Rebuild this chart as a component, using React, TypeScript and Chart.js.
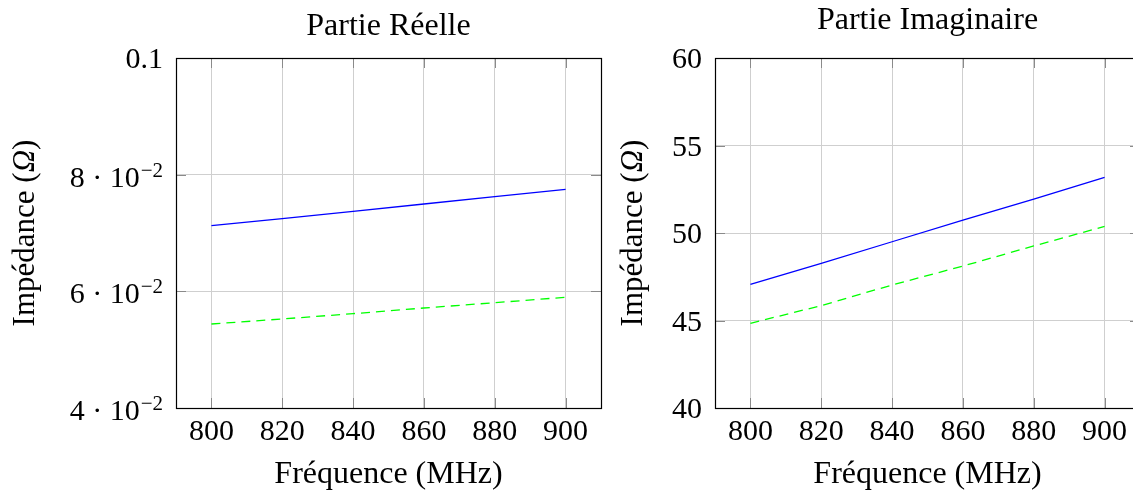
import React, { useEffect, useRef } from "react";
import { Chart, registerables } from "chart.js";

Chart.register(...registerables);

// ---- Data ----
const frequencies = [800, 820, 840, 860, 880, 900];
const reelBlue = [0.07125, 0.07245, 0.07372, 0.07497, 0.07622, 0.07749];
const reelGreen = [0.0544, 0.05526, 0.05617, 0.05714, 0.05805, 0.05898];
const imagBlue = [47.07, 48.27, 49.5, 50.73, 51.94, 53.18];
const imagGreen = [44.84, 45.85, 47.03, 48.11, 49.26, 50.38];

const xTicks = [800, 820, 840, 860, 880, 900];
const reelTicks = [0.04, 0.06, 0.08, 0.1];
const reelTickLabels = ["4 · 10^−2", "6 · 10^−2", "8 · 10^−2", "0.1"];
const imagTicks = [40, 45, 50, 55, 60];
const imagTickLabels = ["40", "45", "50", "55", "60"];

const xAxisTitle = "Fréquence (MHz)";
const yAxisTitleParts = ["Impédance (", "Ω", ")"];

const FONT = "'Liberation Serif', 'Times New Roman', serif";

const framePlugin = {
  id: "frameTicks",
  afterDraw(chart: any) {
    const { ctx, chartArea } = chart;
    const { left, right, top, bottom } = chartArea;
    const xs = chart.scales.x;
    const ys = chart.scales.y;
    const L = 10;
    ctx.save();
    ctx.strokeStyle = "#8a8a8a";
    ctx.lineWidth = 1;
    ctx.beginPath();
    xs.ticks.forEach((t: any) => {
      const px = Math.round(xs.getPixelForValue(t.value)) + 0.5;
      ctx.moveTo(px, bottom);
      ctx.lineTo(px, bottom - L);
      ctx.moveTo(px, top);
      ctx.lineTo(px, top + L);
    });
    ys.ticks.forEach((t: any) => {
      const py = Math.round(ys.getPixelForValue(t.value)) + 0.5;
      ctx.moveTo(left, py);
      ctx.lineTo(left + L, py);
      ctx.moveTo(right, py);
      ctx.lineTo(right - L, py);
    });
    ctx.stroke();
    ctx.strokeStyle = "#000";
    ctx.lineWidth = 1.2;
    ctx.strokeRect(Math.round(left) + 0.5, Math.round(top) + 0.5, Math.round(right - left), Math.round(bottom - top));
    ctx.restore();
  },
};

// y tick labels with real superscript exponents, and the rotated y title with italic Ω
const yLabelPlugin = {
  id: "yLabels",
  afterDraw(chart: any, _args: any, opts: any) {
    const { ctx, chartArea } = chart;
    const ys = chart.scales.y;
    const labels: string[] = opts.labels;
    const ticks: number[] = opts.ticks;
    const xRight = chartArea.left - 13;
    ctx.save();
    ctx.fillStyle = "#000";
    ctx.textBaseline = "alphabetic";
    ticks.forEach((v, i) => {
      const py = ys.getPixelForValue(v);
      const lab = labels[i];
      if (lab.includes("^")) {
        const [base, exp] = lab.split("^");
        ctx.font = `21px ${FONT}`;
        const ew = ctx.measureText(exp).width;
        ctx.textAlign = "left";
        ctx.fillText(exp, xRight - ew, py + 2);
        ctx.font = `30px ${FONT}`;
        ctx.textAlign = "right";
        ctx.fillText(base, xRight - ew - 1, py + 12);
      } else {
        ctx.font = `30px ${FONT}`;
        ctx.textAlign = "right";
        ctx.fillText(lab, xRight, py + 10);
      }
    });
    // y title
    const parts: string[] = opts.titleParts;
    const fonts = [`31px ${FONT}`, `italic 31px ${FONT}`, `31px ${FONT}`];
    const widths = parts.map((p, i) => {
      ctx.font = fonts[i];
      return ctx.measureText(p).width;
    });
    const total = widths.reduce((a, b) => a + b, 0);
    const cy = (chartArea.top + chartArea.bottom) / 2;
    ctx.translate(opts.titleX, cy);
    ctx.rotate(-Math.PI / 2);
    ctx.textAlign = "left";
    let x = -total / 2;
    parts.forEach((p, i) => {
      ctx.font = fonts[i];
      ctx.fillText(p, x, 0);
      x += widths[i];
    });
    ctx.restore();
  },
};

type PanelProps = {
  title: string;
  titlePadTop: number;
  blue: number[];
  green: number[];
  yTicks: number[];
  yLabels: string[];
  yMin: number;
  yMax: number;
  yWidth: number;
  yTitleX: number;
};

function Panel(props: PanelProps) {
  const ref = useRef<HTMLCanvasElement>(null);
  useEffect(() => {
    if (!ref.current) return;
    const titleLH = 32 * 1.2;
    const chart = new Chart(ref.current, {
      type: "line",
      data: {
        datasets: [
          {
            data: frequencies.map((f, i) => ({ x: f, y: props.blue[i] })),
            borderColor: "#0000ff",
            borderWidth: 1.3,
            pointRadius: 0,
            tension: 0,
            fill: false,
          },
          {
            data: frequencies.map((f, i) => ({ x: f, y: props.green[i] })),
            borderColor: "#00ff00",
            borderWidth: 1.3,
            borderDash: [9, 6],
            pointRadius: 0,
            tension: 0,
            fill: false,
          },
        ],
      },
      options: {
        animation: false,
        responsive: false,
        devicePixelRatio: 1,
        layout: { padding: { left: 0, right: 4, top: 0, bottom: 0 } },
        plugins: {
          legend: { display: false },
          tooltip: { enabled: false },
          title: {
            display: true,
            text: props.title,
            fullSize: false,
            color: "#000",
            font: { family: FONT, size: 32, weight: "normal", lineHeight: 1.2 },
            padding: { top: props.titlePadTop, bottom: 58 - props.titlePadTop - titleLH },
          },
          yLabels: {
            labels: props.yLabels,
            ticks: props.yTicks,
            titleParts: yAxisTitleParts,
            titleX: props.yTitleX,
          },
        },
        scales: {
          x: {
            type: "linear",
            min: 790,
            max: 910,
            afterBuildTicks: (s: any) => {
              s.ticks = xTicks.map((v) => ({ value: v }));
            },
            afterFit: (s: any) => {
              s.height = 86;
            },
            ticks: {
              color: "#000",
              font: { family: FONT, size: 30 },
              padding: 6,
              maxRotation: 0,
              callback: (v: any) => String(v),
            },
            grid: { color: "#cfcfcf", lineWidth: 1, drawTicks: false },
            border: { display: false },
            title: {
              display: true,
              text: xAxisTitle,
              color: "#000",
              font: { family: FONT, size: 32, lineHeight: 1.2 },
              padding: { top: 0, bottom: 0 },
            },
          },
          y: {
            type: "linear",
            min: props.yMin,
            max: props.yMax,
            afterBuildTicks: (s: any) => {
              s.ticks = props.yTicks.map((v) => ({ value: v }));
            },
            afterFit: (s: any) => {
              s.width = props.yWidth;
            },
            ticks: { display: false },
            grid: { color: "#cfcfcf", lineWidth: 1, drawTicks: false },
            border: { display: false },
            title: { display: false },
          },
        },
      },
      plugins: [framePlugin, yLabelPlugin],
    } as any);
    return () => chart.destroy();
  }, []);
  return <canvas ref={ref} width={props.yWidth + 429} height={494} style={{ display: "block" }} />;
}

export default function App() {
  return (
    <div
      style={{
        position: "fixed",
        left: 0,
        top: 0,
        width: 1133,
        height: 494,
        overflow: "hidden",
        background: "#fff",
      }}
    >
      <div style={{ position: "absolute", left: 0, top: 0 }}>
        <Panel
          title="Partie Réelle"
          titlePadTop={7}
          blue={reelBlue}
          green={reelGreen}
          yTicks={reelTicks}
          yLabels={reelTickLabels}
          yMin={0.04}
          yMax={0.1}
          yWidth={176}
          yTitleX={34}
        />
      </div>
      <div style={{ position: "absolute", left: 605, top: 0 }}>
        <Panel
          title="Partie Imaginaire"
          titlePadTop={1}
          blue={imagBlue}
          green={imagGreen}
          yTicks={imagTicks}
          yLabels={imagTickLabels}
          yMin={40}
          yMax={60}
          yWidth={110}
          yTitleX={37}
        />
      </div>
    </div>
  );
}
